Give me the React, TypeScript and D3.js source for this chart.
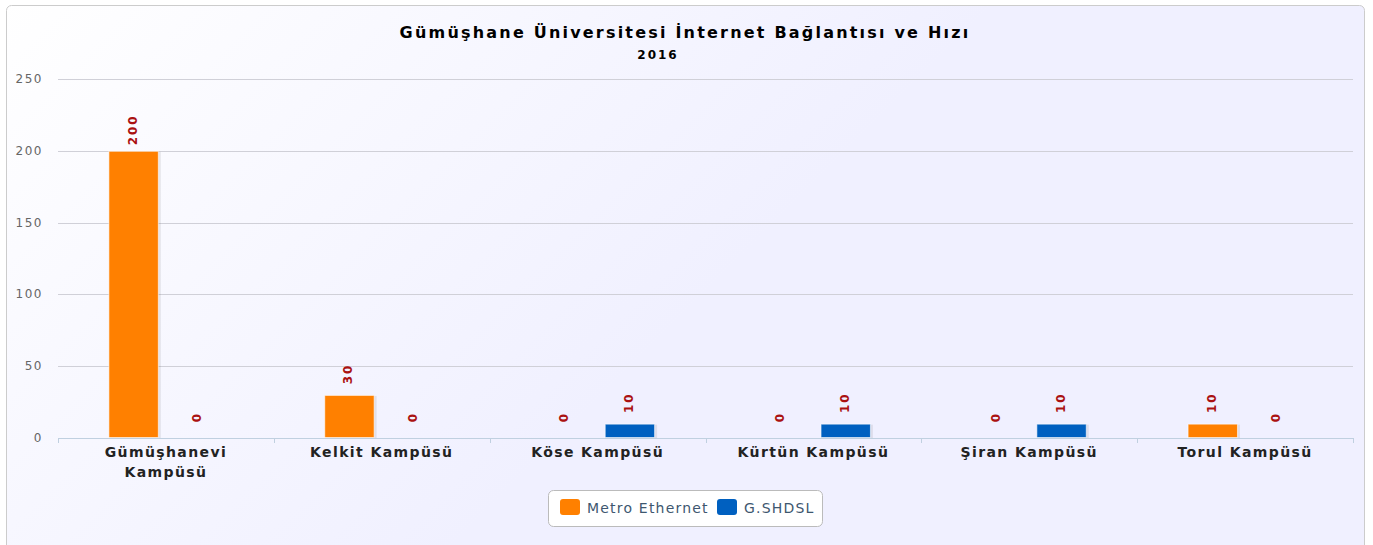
import React from 'react';
import * as d3 from 'd3';

const categories = [
  ['Gümüşhanevi', 'Kampüsü'],
  ['Kelkit Kampüsü'],
  ['Köse Kampüsü'],
  ['Kürtün Kampüsü'],
  ['Şiran Kampüsü'],
  ['Torul Kampüsü'],
];
const seriesNames = ['Metro Ethernet', 'G.SHDSL'];
const metroEthernet = [200, 30, 0, 0, 0, 10];
const gshdsl = [0, 0, 10, 10, 10, 0];
const yTicks = [0, 50, 100, 150, 200, 250];

const colors = ['#ff8000', '#0060c0'];
const font = '"DejaVu Sans", Verdana, sans-serif';

export default function App() {
  const width = 1373, height = 545;
  const left = 58, right = 1353, top = 79, bottom = 438;

  const x = d3.scaleBand<number>().domain(d3.range(categories.length)).range([left, right]);
  const inner = d3.scaleBand<number>().domain([0, 1]).range([0, x.bandwidth()]).paddingInner(0.22).paddingOuter(0.78);
  const y = d3.scaleLinear().domain([0, 250]).range([bottom, top]);
  const series = [metroEthernet, gshdsl];

  return (
    <svg width={width} height={height} style={{ position: 'absolute', left: 0, top: 0 }} fontFamily={font}>
      <defs>
        <linearGradient id="bg" gradientUnits="userSpaceOnUse" x1={0} y1={0} x2={500} y2={500}>
          <stop offset="0" stopColor="#ffffff" />
          <stop offset="1" stopColor="#f0f0ff" />
        </linearGradient>
      </defs>
      <rect x={0} y={0} width={width} height={height} fill="#ffffff" />
      <rect x={6.5} y={5.5} width={1358} height={545} rx={5} fill="url(#bg)" stroke="#cccccc" strokeWidth={1} />

      <text x={685} y={38} textAnchor="middle" fontSize={16} fontWeight="bold" fill="#000" letterSpacing={2.2}>
        Gümüşhane Üniversitesi İnternet Bağlantısı ve Hızı
      </text>
      <text x={658} y={59} textAnchor="middle" fontSize={12} fontWeight="bold" fill="#000" letterSpacing={2}>2016</text>

      {yTicks.map(t => (
        <g key={t}>
          {t > 0 && <line x1={left} x2={right} y1={Math.round(y(t)) + 0.5} y2={Math.round(y(t)) + 0.5} stroke="#d0d0d8" />}
          <text x={43} y={y(t) + 4} textAnchor="end" fontSize={12} fill="#666" letterSpacing={1.5}>{t}</text>
        </g>
      ))}

      <line x1={left} x2={right} y1={bottom + 0.5} y2={bottom + 0.5} stroke="#c0d0e0" />
      {d3.range(categories.length + 1).map(i => {
        const xx = Math.round(left + i * x.step()) + 0.5;
        return <line key={i} x1={xx} x2={xx} y1={bottom} y2={bottom + 5} stroke="#c0d0e0" />;
      })}

      {series.map((vals, s) => vals.map((v, i) => {
        const bx = (x(i) as number) + (inner(s) as number);
        const bw = inner.bandwidth();
        const by = y(v);
        const cx = bx + bw / 2;
        return (
          <g key={`${s}-${i}`}>
            {v > 0 && <>
              <rect x={bx + 2} y={by + 1} width={bw} height={bottom - by - 1} fill="#000" opacity={0.08} />
              <rect x={bx + 0.5} y={by + 0.5} width={bw - 1} height={bottom - by - 1} fill={colors[s]} stroke="#ffffff" strokeWidth={1} strokeOpacity={0.6} />
            </>}
            <text transform={`translate(${cx + 3},${by - 21}) rotate(-90)`} textAnchor="middle" fontSize={12} fontWeight="bold" fill="#aa1111" letterSpacing={2}>{v}</text>
          </g>
        );
      }))}

      {categories.map((lines, i) => (
        <text key={i} x={(x(i) as number) + x.bandwidth() / 2} y={457} textAnchor="middle" fontSize={14} fontWeight="bold" fill="#222" letterSpacing={1.4}>
          {lines.map((l, j) => <tspan key={j} x={(x(i) as number) + x.bandwidth() / 2} dy={j === 0 ? 0 : 20}>{l}</tspan>)}
        </text>
      ))}

      <g>
        <rect x={548.5} y={490.5} width={274} height={36} rx={5} fill="#ffffff" stroke="#bbbbbb" />
        {seriesNames.map((n, i) => {
          const lx = i === 0 ? 560 : 717;
          return (
            <g key={n}>
              <rect x={lx} y={499} width={20} height={16} rx={3} fill={colors[i]} />
              <text x={lx + 27} y={513} fontSize={14} fill="#3e576f" letterSpacing={1.2}>{n}</text>
            </g>
          );
        })}
      </g>
    </svg>
  );
}
